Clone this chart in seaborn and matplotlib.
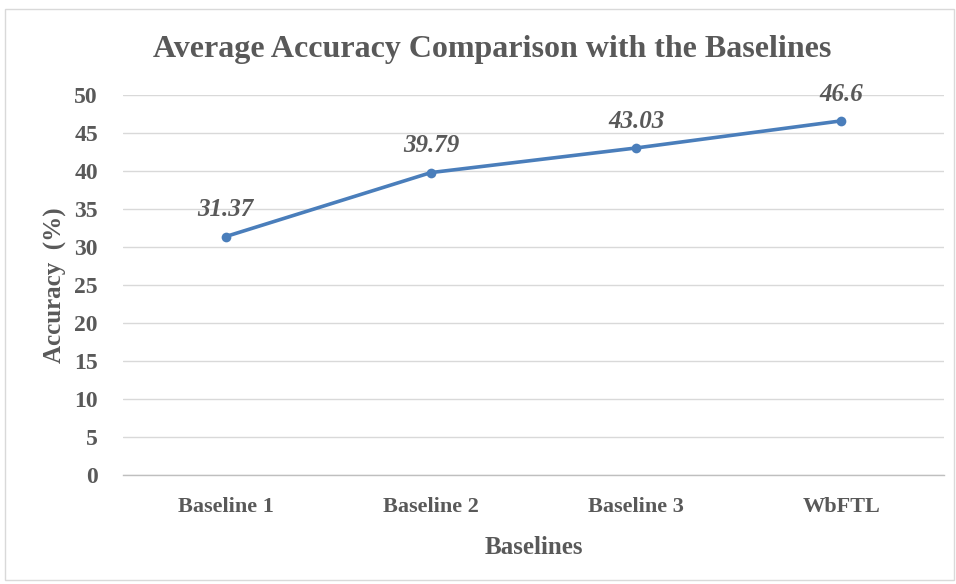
#! /usr/bin/env python3
'''
Average accuracy of the baselines vs. WbFTL, drawn as an Excel-style line chart
'''
# imports
from matplotlib import rcParams
from matplotlib.patches import Rectangle
import matplotlib.pyplot as plt
import pandas as pd
import seaborn as sns

# data
methods = ["Baseline 1", "Baseline 2", "Baseline 3", "WbFTL"]
accuracy = [31.37, 39.79, 43.03, 46.6]
point_labels = ["31.37", "39.79", "43.03", "46.6"]
yticks = [0, 5, 10, 15, 20, 25, 30, 35, 40, 45, 50]

# settings
sns.set_style("white")
rcParams['font.family'] = ['Liberation Serif', 'DejaVu Serif']
rcParams['font.weight'] = 'bold'
text_grey = "#595959"
line_blue = "#4A7EBB"

df = pd.DataFrame({"method": methods, "accuracy": accuracy})
df["pos"] = range(len(df))

fig = plt.figure(figsize=(9.56, 5.84), dpi=100)
ax = fig.add_axes([123 / 956, 1 - 475 / 584, 821 / 956, 380 / 584])

sns.lineplot(data=df, x="pos", y="accuracy", ax=ax, color=line_blue,
             linewidth=2.6, marker="o", markersize=7, markeredgewidth=0)

for x, y, lab in zip(df["pos"], accuracy, point_labels):
    ax.annotate(lab, (x, y), xytext=(0, 11), textcoords="offset points",
                ha="center", va="bottom", fontsize=18, fontstyle="italic",
                fontweight="bold", color=text_grey)

ax.set_xlim(-0.5, len(methods) - 0.5)
ax.set_ylim(0, 50)
ax.set_yticks(yticks)
ax.set_yticklabels([str(t) for t in yticks])
ax.set_xticks(df["pos"])
ax.set_xticklabels(methods)
ax.tick_params(axis="y", length=0, labelsize=17, colors=text_grey, pad=18)
ax.tick_params(axis="x", length=0, labelsize=16, colors=text_grey, pad=16)
ax.grid(axis="y", color="#D9D9D9", linewidth=1)
ax.set_axisbelow(True)
for s in ["top", "right", "left"]:
    ax.spines[s].set_visible(False)
ax.spines["bottom"].set_color("#BFBFBF")
ax.spines["bottom"].set_linewidth(1)

ax.set_xlabel("Baselines", fontsize=18, color=text_grey, fontweight="bold")
ax.xaxis.set_label_coords(0.5, -0.16)
ax.set_ylabel("Accuracy  (%)", fontsize=18, color=text_grey, fontweight="bold")
ax.yaxis.set_label_coords(-0.068, 0.5)
fig.text(0.515, 1 - 50 / 584, "Average Accuracy Comparison with the Baselines",
         ha="center", va="center", fontsize=23, fontweight="bold", color=text_grey)

# outer chart frame
fig.patches.append(Rectangle((5 / 956, 4 / 584), 949 / 956, 571 / 584,
                             transform=fig.transFigure, fill=False,
                             edgecolor="#D9D9D9", linewidth=1))

fig.savefig("out.png", dpi=100)
plt.close()
